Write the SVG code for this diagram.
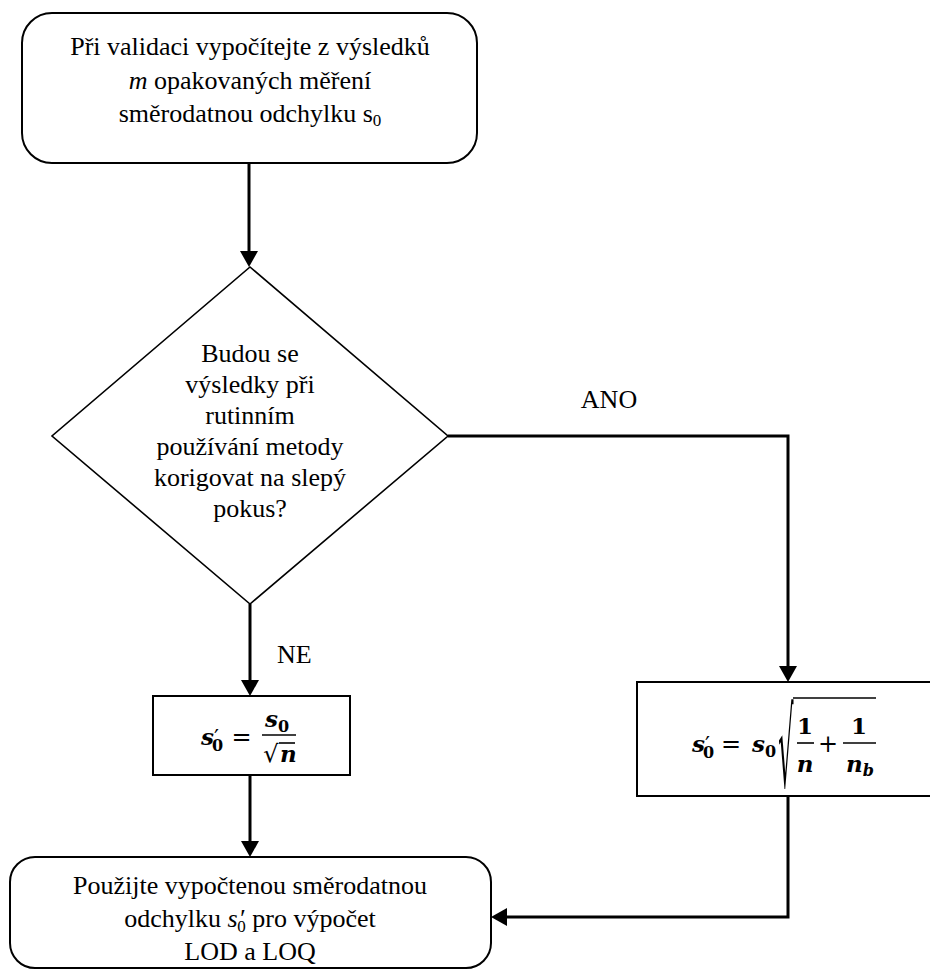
<svg xmlns="http://www.w3.org/2000/svg" width="930" height="970" viewBox="0 0 930 970">
  <defs>
    <marker id="arrow" viewBox="0 0 16 18" refX="8" refY="9" markerWidth="16" markerHeight="18" markerUnits="userSpaceOnUse" orient="auto">
      <path d="M0,0 L16,9 L0,18 z" fill="#000"/>
    </marker>
    <style>
      .box { fill: #fff; stroke: #000; stroke-width: 2; }
      .dia { fill: #fff; stroke: #000; stroke-width: 1.6; }
      .conn { fill: none; stroke: #000; stroke-width: 3; }
      .t { font-family: "Liberation Serif", "Times New Roman", serif; font-size: 26px; fill: #000; }
      .c { text-anchor: middle; }
      .m { font-family: "DejaVu Serif", "Liberation Serif", serif; font-weight: bold; font-style: italic; fill: #000; font-size: 23px; }
      .mr { font-family: "DejaVu Serif", "Liberation Serif", serif; font-weight: bold; fill: #000; }
      .op { font-family: "DejaVu Serif", "Liberation Serif", serif; font-size: 24px; fill: #000; text-anchor: middle; }
      .bar { stroke: #000; stroke-width: 1.6; }
    </style>
  </defs>

  <!-- start: compute s0 from m repeated measurements -->
  <g id="start">
    <rect class="box" x="22" y="13" width="455" height="150" rx="30" ry="30"/>
    <text class="t c" x="250" y="55">Při validaci vypočítejte z výsledků</text>
    <text class="t c" x="250" y="88.5"><tspan font-style="italic">m</tspan> opakovaných měření</text>
    <text class="t c" x="250" y="122">směrodatnou odchylku s<tspan font-size="17" dy="4">0</tspan></text>
  </g>

  <!-- decision: blank correction -->
  <g id="decision">
    <polygon class="dia" points="250,267 448,436 250,604 52,436"/>
    <text class="t c" x="250" y="362">Budou se</text>
    <text class="t c" x="250" y="393">výsledky při</text>
    <text class="t c" x="250" y="424">rutinním</text>
    <text class="t c" x="250" y="455">používání metody</text>
    <text class="t c" x="250" y="486">korigovat na slepý</text>
    <text class="t c" x="250" y="517">pokus?</text>
  </g>

  <!-- formula without blank correction: s'0 = s0 / sqrt(n) -->
  <g id="formula-ne">
    <rect class="box" x="153" y="696" width="197" height="79"/>
    <text class="m" x="201" y="745">s<tspan font-style="normal" font-weight="normal" font-size="22">′</tspan><tspan font-style="normal" font-size="16" dx="-7" dy="6">0</tspan></text>
    <text class="op" x="241.5" y="745">=</text>
    <line class="bar" x1="262" y1="735" x2="296" y2="735"/>
    <text class="m" x="265" y="727">s<tspan font-style="normal" font-size="16" dy="5">0</tspan></text>
    <text class="op" x="271" y="762" font-size="22">√</text>
    <line class="bar" x1="279" y1="743" x2="295" y2="743" stroke-width="1.2"/>
    <text class="m" x="280" y="762">n</text>
  </g>

  <!-- formula with blank correction: s'0 = s0 * sqrt(1/n + 1/nb) -->
  <g id="formula-ano">
    <rect class="box" x="637" y="682" width="310" height="114"/>
    <text class="m" x="692" y="752">s<tspan font-style="normal" font-weight="normal" font-size="22">′</tspan><tspan font-style="normal" font-size="16" dx="-7" dy="6">0</tspan></text>
    <text class="op" x="731" y="752">=</text>
    <text class="m" x="752" y="752">s<tspan font-style="normal" font-size="16" dy="5">0</tspan></text>
    <text class="op" transform="translate(786,787) scale(1,4.5)" x="0" y="0" font-size="26">√</text>
    <line class="bar" x1="793" y1="698" x2="876" y2="698"/>
    <text class="mr c" x="805" y="734" font-size="23">1</text>
    <line class="bar" x1="797" y1="743" x2="814" y2="743"/>
    <text class="m c" x="805" y="772">n</text>
    <text class="op" x="828" y="752">+</text>
    <text class="mr c" x="859" y="734" font-size="23">1</text>
    <line class="bar" x1="843" y1="743" x2="876" y2="743"/>
    <text class="m" x="846" y="772">n<tspan font-size="16" dy="4">b</tspan></text>
  </g>

  <!-- end: use computed deviation for LOD and LOQ -->
  <g id="end">
    <rect class="box" x="10" y="857" width="481" height="111" rx="25" ry="25"/>
    <text class="t c" x="250" y="894">Použijte vypočtenou směrodatnou</text>
    <text class="t c" x="250" y="927">odchylku <tspan font-style="italic">s</tspan><tspan font-style="italic" dx="1">′</tspan><tspan font-size="17" dx="-7" dy="5">0</tspan><tspan dy="-5"> pro výpočet</tspan></text>
    <text class="t c" x="250" y="960">LOD a LOQ</text>
  </g>

  <!-- connectors -->
  <g id="connectors">
    <line class="conn" x1="249" y1="163" x2="249" y2="259" marker-end="url(#arrow)"/>
    <line class="conn" x1="250" y1="604" x2="250" y2="688" marker-end="url(#arrow)"/>
    <line class="conn" x1="250" y1="775" x2="250" y2="849" marker-end="url(#arrow)"/>
    <polyline class="conn" points="448,436 788,436 788,674" marker-end="url(#arrow)"/>
    <polyline class="conn" points="788,796 788,917 499,917" marker-end="url(#arrow)"/>
  </g>

  <!-- branch labels -->
  <g id="labels">
    <text class="t c" x="609" y="408">ANO</text>
    <text class="t" x="277" y="663">NE</text>
  </g>
</svg>
